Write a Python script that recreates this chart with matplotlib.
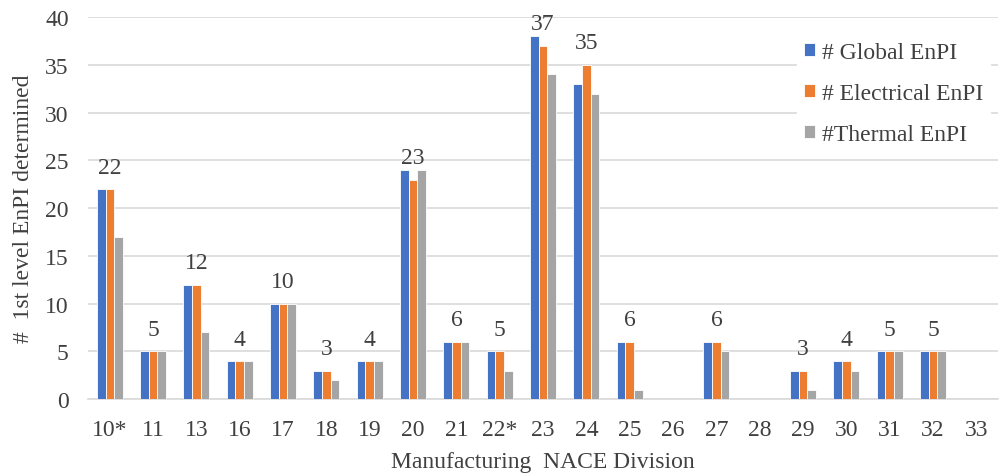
import numpy as np
import matplotlib.pyplot as plt

plt.rcParams['font.family'] = ['Liberation Serif', 'DejaVu Serif']

divisions = ['10*', '11', '13', '16', '17', '18', '19', '20', '21', '22*', '23',
             '24', '25', '26', '27', '28', '29', '30', '31', '32', '33']
global_enpi = [22, 5, 12, 4, 10, 3, 4, 24, 6, 5, 38, 33, 6, 0, 6, 0, 3, 4, 5, 5, 0]
electrical_enpi = [22, 5, 12, 4, 10, 3, 4, 23, 6, 5, 37, 35, 6, 0, 6, 0, 3, 4, 5, 5, 0]
thermal_enpi = [17, 5, 7, 4, 10, 2, 4, 24, 6, 3, 34, 32, 1, 0, 5, 0, 1, 3, 5, 5, 0]

series = [('# Global EnPI', global_enpi, '#4472C4'),
          ('# Electrical EnPI', electrical_enpi, '#ED7D31'),
          ('#Thermal EnPI', thermal_enpi, '#A5A5A5')]

txt = '#404040'
fs = 17

fig = plt.figure(figsize=(10.02, 4.77), dpi=100)
ax = fig.add_axes([0.088, 0.161, 0.908, 0.801])

x = np.arange(len(divisions))
w = 0.2
for i, (name, vals, color) in enumerate(series):
    ax.bar(x + (i - 1) * w, vals, w, color=color, edgecolor='white',
           linewidth=0.6, label=name, zorder=3)

# value labels for the electrical series (skip empty divisions)
for xi, v in zip(x, electrical_enpi):
    if v > 0:
        ax.text(xi, v + 1.2, str(v), ha='center', va='bottom',
                fontsize=fs, color=txt)

ax.set_xlim(-0.5, len(divisions) - 0.5)
ax.set_ylim(0, 40)
ax.set_yticks(range(0, 41, 5))
ax.set_xticks(x)
ax.set_xticklabels(divisions)
ax.tick_params(axis='both', length=0, labelsize=fs, colors=txt)
ax.tick_params(axis='x', pad=14)
ax.tick_params(axis='y', pad=14)
ax.grid(axis='y', color='#D9D9D9', linewidth=1.2, zorder=0)
for side in ['top', 'right', 'left']:
    ax.spines[side].set_visible(False)
ax.spines['bottom'].set_color('#D9D9D9')
ax.spines['bottom'].set_linewidth(1.2)

ax.set_xlabel('Manufacturing  NACE Division', fontsize=fs, color=txt, labelpad=8.5)
ax.set_ylabel('#  1st level EnPI determined', fontsize=fs, color=txt, labelpad=8)

leg = ax.legend(loc='upper left', bbox_to_anchor=(0.795, 0.925),
                bbox_transform=fig.transFigure, frameon=True,
                fontsize=fs, handlelength=0.47, handleheight=0.47,
                handletextpad=0.3, labelspacing=0.85, borderpad=0.3,
                borderaxespad=0)
leg.get_frame().set_edgecolor('white')
leg.get_frame().set_alpha(1)
for t in leg.get_texts():
    t.set_color(txt)

fig.savefig('out.png', dpi=100)
